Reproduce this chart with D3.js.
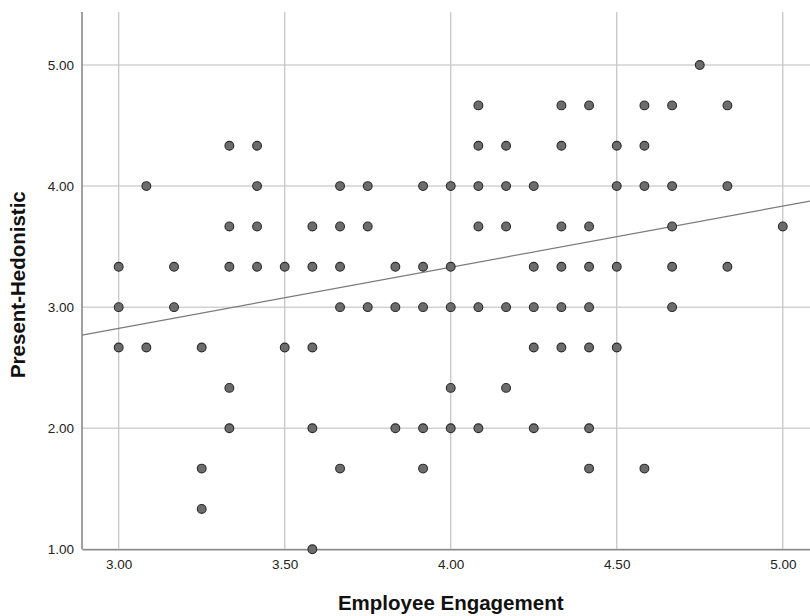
<!DOCTYPE html>
<html>
<head>
<meta charset="utf-8">
<script src="https://cdn.jsdelivr.net/npm/d3@7"></script>
<style>
  html, body { margin: 0; padding: 0; background: #fff; }
  svg { display: block; font-family: "Liberation Sans", Arial, sans-serif; }
</style>
</head>
<body>
<svg id="chart" width="810" height="616"></svg>
<script>
// Employee Engagement (x) vs Present-Hedonistic (y), one entry per respondent dot
const engagement = [
  3.0000, 3.0000, 3.0000,
  3.0833, 3.0833,
  3.1667, 3.1667,
  3.2500, 3.2500, 3.2500,
  3.3333, 3.3333, 3.3333, 3.3333, 3.3333,
  3.4167, 3.4167, 3.4167, 3.4167,
  3.5000, 3.5000,
  3.5833, 3.5833, 3.5833, 3.5833, 3.5833,
  3.6667, 3.6667, 3.6667, 3.6667, 3.6667,
  3.7500, 3.7500, 3.7500,
  3.8333, 3.8333, 3.8333,
  3.9167, 3.9167, 3.9167, 3.9167, 3.9167,
  4.0000, 4.0000, 4.0000, 4.0000, 4.0000,
  4.0833, 4.0833, 4.0833, 4.0833, 4.0833, 4.0833,
  4.1667, 4.1667, 4.1667, 4.1667, 4.1667,
  4.2500, 4.2500, 4.2500, 4.2500, 4.2500,
  4.3333, 4.3333, 4.3333, 4.3333, 4.3333, 4.3333,
  4.4167, 4.4167, 4.4167, 4.4167, 4.4167, 4.4167, 4.4167,
  4.5000, 4.5000, 4.5000, 4.5000,
  4.5833, 4.5833, 4.5833, 4.5833,
  4.6667, 4.6667, 4.6667, 4.6667, 4.6667,
  4.7500,
  4.8333, 4.8333, 4.8333,
  5.0000
];
const hedonistic = [
  3.3333, 3.0000, 2.6667,
  4.0000, 2.6667,
  3.3333, 3.0000,
  2.6667, 1.6667, 1.3333,
  4.3333, 3.6667, 3.3333, 2.3333, 2.0000,
  4.3333, 4.0000, 3.6667, 3.3333,
  3.3333, 2.6667,
  3.6667, 3.3333, 2.6667, 2.0000, 1.0000,
  4.0000, 3.6667, 3.3333, 3.0000, 1.6667,
  4.0000, 3.6667, 3.0000,
  3.3333, 3.0000, 2.0000,
  4.0000, 3.3333, 3.0000, 2.0000, 1.6667,
  4.0000, 3.3333, 3.0000, 2.3333, 2.0000,
  4.6667, 4.3333, 4.0000, 3.6667, 3.0000, 2.0000,
  4.3333, 4.0000, 3.6667, 3.0000, 2.3333,
  4.0000, 3.3333, 3.0000, 2.6667, 2.0000,
  4.6667, 4.3333, 3.6667, 3.3333, 3.0000, 2.6667,
  4.6667, 3.6667, 3.3333, 3.0000, 2.6667, 2.0000, 1.6667,
  4.3333, 4.0000, 3.3333, 2.6667,
  4.6667, 4.3333, 4.0000, 1.6667,
  4.6667, 4.0000, 3.6667, 3.3333, 3.0000,
  5.0000,
  4.6667, 4.0000, 3.3333,
  3.6667
];

// Linear fit line: hedonistic = fitIntercept + fitSlope * engagement
const fitIntercept = 1.312;
const fitSlope = 0.5045;

const xTicks = [3.0, 3.5, 4.0, 4.5, 5.0];
const yTicks = [1.0, 2.0, 3.0, 4.0, 5.0];
const xTitle = "Employee Engagement";
const yTitle = "Present-Hedonistic";

const xDomain = [2.8895, 5.082];
const yDomain = [1.0, 5.438];

const svg = d3.select("#chart");
const margin = { left: 82, top: 12, right: 0, bottom: 66.7 };
const W = 810, H = 616;
const innerW = W - margin.left - margin.right;
const innerH = H - margin.top - margin.bottom;

const x = d3.scaleLinear().domain(xDomain).range([0, innerW]);
const y = d3.scaleLinear().domain(yDomain).range([innerH, 0]);

const g = svg.append("g").attr("transform", `translate(${margin.left},${margin.top})`);

// grid lines
g.append("g").selectAll("line.hgrid").data(yTicks).join("line")
  .attr("x1", 0).attr("x2", innerW)
  .attr("y1", d => y(d)).attr("y2", d => y(d))
  .attr("stroke", "#d2d2d2").attr("stroke-width", 1.5);
g.append("g").selectAll("line.vgrid").data(xTicks).join("line")
  .attr("y1", 0).attr("y2", innerH)
  .attr("x1", d => x(d)).attr("x2", d => x(d))
  .attr("stroke", "#c6c6c6").attr("stroke-width", 1.3);

// axes
const fmt = d3.format(".2f");
const xAxis = g.append("g").attr("transform", `translate(0,${innerH})`)
  .call(d3.axisBottom(x).tickValues(xTicks).tickFormat(fmt).tickSize(0).tickPadding(10));
const yAxis = g.append("g")
  .call(d3.axisLeft(y).tickValues(yTicks).tickFormat(fmt).tickSize(0).tickPadding(8));
[xAxis, yAxis].forEach(a => {
  a.select(".domain").attr("stroke", "#8a8a8a").attr("stroke-width", 1.6);
  a.selectAll("text").attr("fill", "#222").style("font-size", "13.5px")
    .style("font-family", "'Liberation Sans', Arial, sans-serif");
});
// left axis reaches up to the top of the plot area
yAxis.select(".domain").attr("d", `M0,${innerH}V0`);

// fit line
const fitX = xDomain;
g.append("line")
  .attr("x1", x(fitX[0])).attr("y1", y(fitIntercept + fitSlope * fitX[0]))
  .attr("x2", x(fitX[1])).attr("y2", y(fitIntercept + fitSlope * fitX[1]))
  .attr("stroke", "#7a7a7a").attr("stroke-width", 1.2);

// points
const pts = engagement.map((e, i) => ({ e, h: hedonistic[i] }));
g.append("g").selectAll("circle").data(pts).join("circle")
  .attr("cx", d => x(d.e)).attr("cy", d => y(d.h)).attr("r", 4.4)
  .attr("fill", "#6c6c6c").attr("stroke", "#2b2b2b").attr("stroke-width", 1.1);

// axis titles
svg.append("text")
  .attr("x", margin.left + x(4.0)).attr("y", 610)
  .attr("text-anchor", "middle")
  .style("font-size", "20.5px").style("font-weight", "bold").attr("fill", "#111")
  .text(xTitle);
svg.append("text")
  .attr("transform", `translate(25,${margin.top + innerH / 2 + 4}) rotate(-90)`)
  .attr("text-anchor", "middle")
  .style("font-size", "20.5px").style("font-weight", "bold").attr("fill", "#111")
  .text(yTitle);
</script>
</body>
</html>
